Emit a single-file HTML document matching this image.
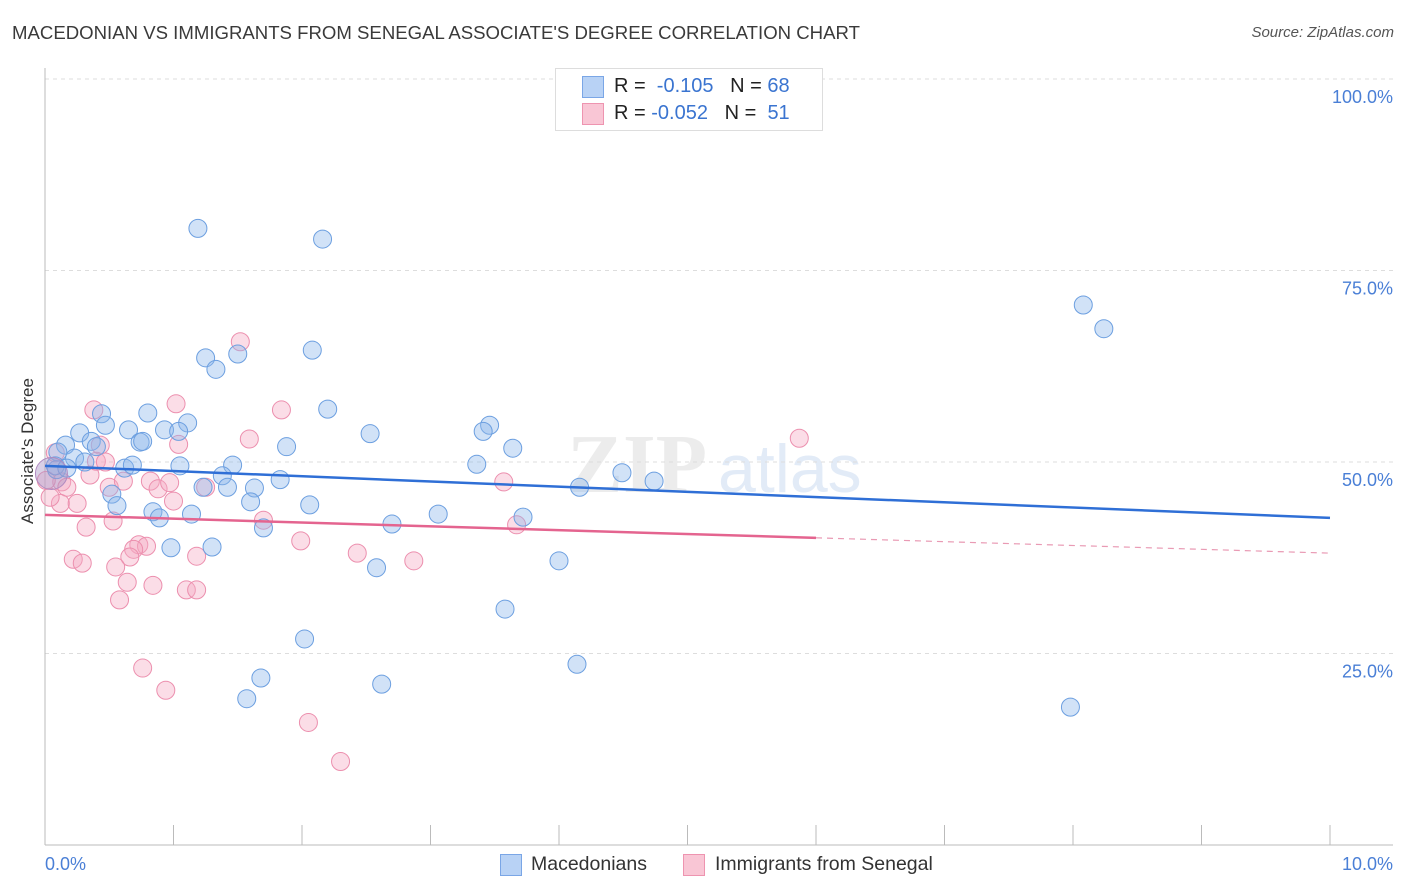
<!DOCTYPE html>
<html><head><meta charset="utf-8">
<style>
body{margin:0;background:#fff;font-family:"Liberation Sans",sans-serif;}
#wrap{position:relative;width:1406px;height:892px;overflow:hidden;}
.t{position:absolute;white-space:nowrap;}
</style></head>
<body>
<div id="wrap">
<div class="t" style="left:12px;top:22px;font-size:18.6px;color:#3a3a3a;">MACEDONIAN VS IMMIGRANTS FROM SENEGAL ASSOCIATE'S DEGREE CORRELATION CHART</div>
<div class="t" style="right:12px;top:24px;font-size:15px;color:#555;font-style:italic;">Source: ZipAtlas.com</div>
<svg id="plot" width="1406" height="892" style="position:absolute;left:0;top:0"></svg>
<div class="t" style="left:-42px;top:444px;transform:rotate(-90deg);font-size:17px;color:#333;width:140px;text-align:center;">Associate's Degree</div>
<div style="position:absolute;left:555px;top:68px;width:266px;height:61px;border:1px solid #ddd;background:#fff;font-size:20px;">
 <div style="position:absolute;left:26px;top:7px;width:20px;height:20px;background:#b8d2f5;border:1px solid #7aa6e6;"></div>
 <div class="t" style="left:58px;top:6px;color:#222">R = &nbsp;<span style="color:#3a74d0">-0.105</span> &nbsp;&nbsp;N = <span style="color:#3a74d0">68</span></div>
 <div style="position:absolute;left:26px;top:34px;width:20px;height:20px;background:#f9c6d5;border:1px solid #ee94b0;"></div>
 <div class="t" style="left:58px;top:33px;color:#222">R = <span style="color:#3a74d0">-0.052</span> &nbsp;&nbsp;N = &nbsp;<span style="color:#3a74d0">51</span></div>
</div>
<div style="position:absolute;left:500px;top:852px;font-size:19.5px;color:#333;">
 <div style="position:absolute;left:0;top:2px;width:20px;height:20px;background:#b8d2f5;border:1px solid #7aa6e6;"></div>
 <div class="t" style="left:31px;top:1px">Macedonians</div>
 <div style="position:absolute;left:183px;top:2px;width:20px;height:20px;background:#f9c6d5;border:1px solid #ee94b0;"></div>
 <div class="t" style="left:215px;top:1px">Immigrants from Senegal</div>
</div>
</div>
<script>
const blueX=[1.19,2.16,8.08,8.24,1.25,1.50,1.33,2.08,0.80,0.44,1.11,2.20,0.47,0.27,0.65,0.93,1.04,0.74,0.76,0.16,0.36,2.53,3.46,3.41,3.64,1.88,0.10,0.23,0.40,0.31,0.62,0.68,1.05,1.46,3.36,4.49,4.74,0.09,0.08,1.83,1.38,1.23,1.42,1.63,0.52,4.16,1.60,2.06,0.56,0.84,0.89,1.14,2.70,3.06,3.72,1.70,0.98,1.30,2.58,4.00,3.58,2.02,4.14,1.68,2.62,1.57,7.98,0.17];
const blueY=[80.5,79.1,70.5,67.4,63.6,64.1,62.1,64.6,56.4,56.3,55.1,56.9,54.8,53.8,54.2,54.2,54.0,52.6,52.7,52.2,52.7,53.7,54.8,54.0,51.8,52.0,51.3,50.5,52.0,50.0,49.2,49.6,49.5,49.6,49.7,48.6,47.5,49.0,49.5,47.7,48.2,46.7,46.7,46.6,45.8,46.7,44.8,44.4,44.3,43.5,42.7,43.2,41.9,43.2,42.8,41.4,38.8,38.9,36.2,37.1,30.8,26.9,23.6,21.8,21.0,19.1,18.0,49.2];
const pinkX=[1.52,1.02,0.38,1.84,5.87,1.59,1.04,0.43,0.08,0.35,0.40,0.47,0.13,0.17,0.50,0.61,0.82,0.88,0.97,1.25,3.57,0.12,0.25,1.00,0.04,1.70,3.67,0.53,0.32,1.99,2.43,0.73,0.79,0.69,0.66,0.22,0.29,1.18,0.55,2.87,0.64,0.84,1.10,1.18,0.58,0.76,0.94,2.05,2.30,0.01];
const pinkY=[65.7,57.6,56.8,56.8,53.1,53.0,52.3,52.2,51.2,48.3,50.1,50.0,47.4,46.7,46.7,47.5,47.5,46.5,47.3,46.7,47.4,44.6,44.6,44.9,45.4,42.4,41.8,42.3,41.5,39.7,38.1,39.2,39.0,38.6,37.6,37.3,36.8,37.7,36.3,37.1,34.3,33.9,33.3,33.3,32.0,23.1,20.2,16.0,10.9,47.6];
const blueTrend=[49.5,42.7];
const pinkTrend=[43.1,38.1];
const pinkSolidEnd=6.0;
const yTicks=[25,50,75,100];
const yTickLabels=["25.0%","50.0%","75.0%","100.0%"];
const xTicks=[0,1,2,3,4,5,6,7,8,9,10];

const X=v=>45+v*128.5, Y=v=>845-v*7.66;
const svg=document.getElementById('plot');
const NS='http://www.w3.org/2000/svg';
function mk(t,a){const e=document.createElementNS(NS,t);for(const k in a)e.setAttribute(k,a[k]);svg.appendChild(e);return e;}
const wm=mk('text',{x:637,y:492,'text-anchor':'middle','font-size':84,fill:'#ececec','font-family':'Liberation Serif','font-weight':'bold'});
wm.textContent='ZIP';


const wm2=mk('text',{x:718,y:492,'font-size':68,fill:'#e2ebf7','font-family':'Liberation Sans'});
wm2.textContent='atlas';


yTicks.forEach((v,i)=>{
 const g=mk('line',{x1:45,x2:1393,y1:Y(v),y2:Y(v),stroke:'#ddd','stroke-dasharray':'4,4'});
 
 
 const t=mk('text',{x:1393,y:Y(v)+24,'text-anchor':'end','font-size':18,fill:'#4a7fd6','font-family':'Liberation Sans'});
 t.textContent=yTickLabels[i];
 
 
});
const ax=mk('line',{x1:45,x2:45,y1:68,y2:845,stroke:'#bbb'});


const bx=mk('line',{x1:45,x2:1393,y1:845,y2:845,stroke:'#bbb'});


xTicks.forEach(v=>{
 const l=mk('line',{x1:X(v),x2:X(v),y1:825,y2:845,stroke:'#bbb'});
 
 
});
[[0,'0.0%',45,'start'],[10,'10.0%',1393,'end']].forEach(a=>{
 const t=mk('text',{x:a[2],y:870,'text-anchor':a[3],'font-size':18,fill:'#4a7fd6','font-family':'Liberation Sans'});
 t.textContent=a[1];
 
 
});
pinkX.forEach((x,i)=>{
 const c=mk('circle',{cx:X(x),cy:Y(pinkY[i]),r:9,fill:'rgba(246,170,196,0.4)',stroke:'#ec8fae','stroke-width':1});
 
 
});
blueX.forEach((x,i)=>{
 const c=mk('circle',{cx:X(x),cy:Y(blueY[i]),r:9,fill:'rgba(140,182,236,0.4)',stroke:'#6c9fe0','stroke-width':1});
 
 
});
const big=mk('circle',{cx:X(0.05),cy:Y(48.5),r:16,fill:'rgba(170,150,200,0.45)',stroke:'#b08ac0'});


const bt=mk('line',{x1:X(0),x2:X(10),y1:Y(blueTrend[0]),y2:Y(blueTrend[1]),stroke:'#2f6fd6','stroke-width':2.5});


const py=x=>pinkTrend[0]+(pinkTrend[1]-pinkTrend[0])*x/10;
const pt=mk('line',{x1:X(0),x2:X(pinkSolidEnd),y1:Y(py(0)),y2:Y(py(pinkSolidEnd)),stroke:'#e4648f','stroke-width':2.5});


const pd=mk('line',{x1:X(pinkSolidEnd),x2:X(10),y1:Y(py(pinkSolidEnd)),y2:Y(py(10)),stroke:'#e99ab4','stroke-width':1.2,'stroke-dasharray':'6,5'});


</script>
</body></html>
